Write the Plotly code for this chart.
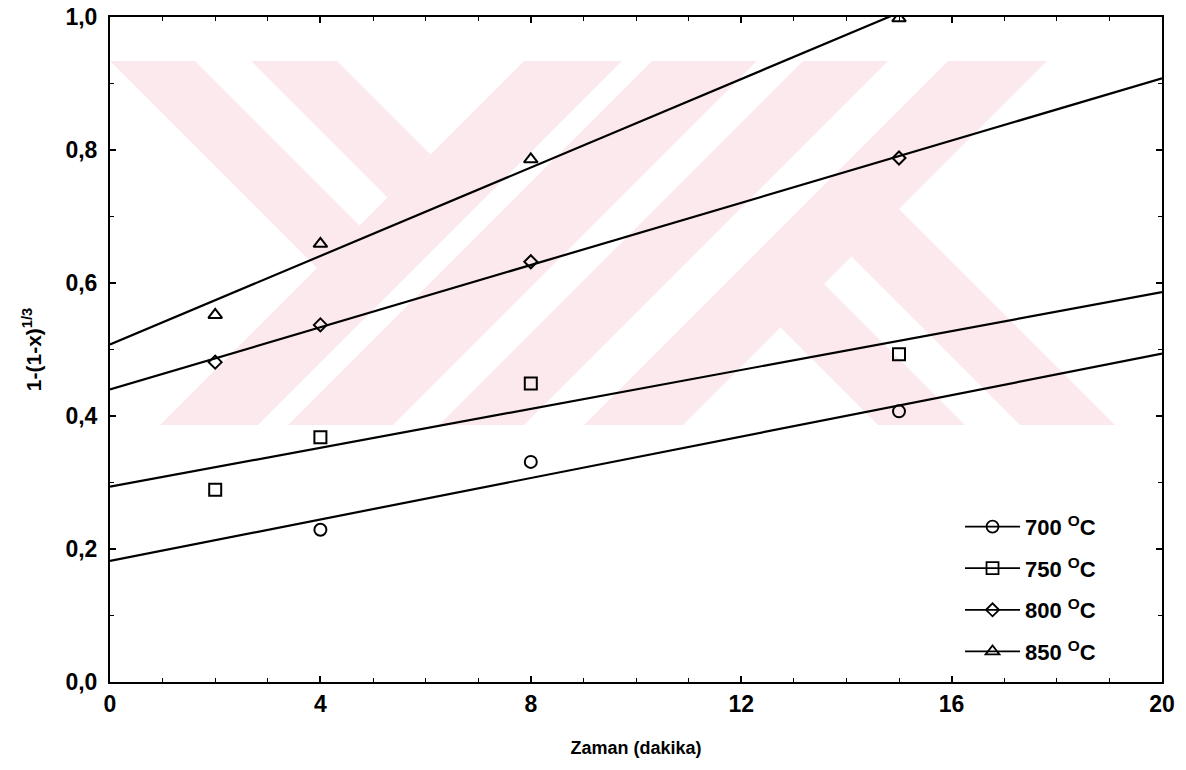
import numpy as np
import plotly.graph_objects as go

# ---------------- data ----------------
series_names = ["700 <sup>O</sup>C", "750 <sup>O</sup>C", "800 <sup>O</sup>C", "850 <sup>O</sup>C"]
x_700 = [4, 8, 15]
y_700 = [0.229, 0.331, 0.407]
x_750 = [2, 4, 8, 15]
y_750 = [0.289, 0.368, 0.449, 0.493]
x_800 = [2, 4, 8, 15]
y_800 = [0.481, 0.537, 0.632, 0.788]
x_850 = [2, 4, 8, 15]
y_850 = [0.552, 0.659, 0.786, 0.998]
symbols = ["circle-open", "square-open", "diamond-open", "triangle-up-open"]
sizes = [12, 12, 10, 12]

x_range = [0, 20]
y_range = [0, 1.0]
x_ticks = [0, 4, 8, 12, 16, 20]
y_ticks = [0.0, 0.2, 0.4, 0.6, 0.8, 1.0]

xs = [x_700, x_750, x_800, x_850]
ys = [y_700, y_750, y_800, y_850]

FONT = "Arial, Liberation Sans, Helvetica, sans-serif"

fig = go.Figure()

# ---------------- watermark (background decoration) ----------------
W, H = 1186, 770
ML, MR, MT, MB = 110, 24, 17, 88
PW, PH = W - ML - MR, H - MT - MB


def clip(poly, a, b, c):
    # keep a*x + b*y <= c
    out = []
    n = len(poly)
    for i in range(n):
        p, q = poly[i], poly[(i + 1) % n]
        fp = a * p[0] + b * p[1] - c
        fq = a * q[0] + b * q[1] - c
        if fp <= 0:
            out.append(p)
        if (fp < 0 < fq) or (fq < 0 < fp):
            t = fp / (fp - fq)
            out.append((p[0] + t * (q[0] - p[0]), p[1] + t * (q[1] - p[1])))
    return out


def region(ulo=None, uhi=None, vlo=None, vhi=None):
    poly = [(ML, 61), (ML + PW, 61), (ML + PW, 425), (ML, 425)]
    if ulo is not None:
        poly = clip(poly, -1, -1, -ulo)
    if uhi is not None:
        poly = clip(poly, 1, 1, uhi)
    if vlo is not None:
        poly = clip(poly, -1, 1, -vlo)
    if vhi is not None:
        poly = clip(poly, 1, -1, vhi)
    return poly


wm_regions = [
    region(uhi=585, vlo=49, vhi=134),
    region(uhi=585, vlo=190, vhi=276),
    region(ulo=585, uhi=683),
    region(ulo=713, uhi=818),
    region(ulo=864, uhi=949),
    region(ulo=1009, uhi=1108),
    region(ulo=1108, vlo=453, vhi=540),
    region(ulo=1108, vlo=595, vhi=690),
]
shapes = []
for poly in wm_regions:
    if len(poly) < 3:
        continue
    pts = [((px - ML) / PW, (MT + PH - py) / PH) for px, py in poly]
    path = "M " + " L ".join(f"{x:.5f},{y:.5f}" for x, y in pts) + " Z"
    shapes.append(dict(type="path", path=path, xref="paper", yref="paper",
                       fillcolor="rgb(252,233,237)", line=dict(width=0), layer="below"))

# ---------------- traces ----------------
x_line = np.array(x_range, dtype=float)
for i in range(4):
    slope, intercept = np.polyfit(xs[i], ys[i], 1)
    fig.add_trace(go.Scatter(x=x_line, y=intercept + slope * x_line, mode="lines",
                             line=dict(color="black", width=2.2), showlegend=False,
                             hoverinfo="skip"))
for i in range(4):
    fig.add_trace(go.Scatter(x=xs[i], y=ys[i], mode="markers",
                             marker=dict(symbol=symbols[i], size=sizes[i], color="black",
                                         line=dict(color="black", width=2)),
                             showlegend=False))
for i in range(4):
    fig.add_trace(go.Scatter(x=[None], y=[None], mode="lines+markers", name=series_names[i],
                             legendgroup=f"g{i}",
                             line=dict(color="black", width=1.8),
                             marker=dict(symbol=symbols[i], size=sizes[i], color="black",
                                         line=dict(color="black", width=1.8))))

axis_common = dict(
    showline=True, linecolor="black", linewidth=2, mirror="ticks",
    ticks="inside", ticklen=6, tickwidth=1.5, tickcolor="black",
    showgrid=False, zeroline=False, automargin=False,
    tickfont=dict(family=FONT, size=23, color="black", weight="bold"),
)

fig.update_layout(
    width=W, height=H,
    margin=dict(l=ML, r=MR, t=MT, b=MB),
    plot_bgcolor="white", paper_bgcolor="white",
    separators=", ",
    shapes=shapes,
    font=dict(family=FONT, color="black"),
    xaxis=dict(range=x_range, tickvals=x_ticks,
               minor=dict(dtick=1, ticks="inside", ticklen=4, tickcolor="black", tickwidth=1.2),
               title=dict(text="Zaman (dakika)", standoff=26,
                          font=dict(family=FONT, size=18, color="black", weight="bold")),
               **axis_common),
    yaxis=dict(range=y_range, tickvals=y_ticks, tickformat=".1f",
               minor=dict(dtick=0.1, ticks="inside", ticklen=4, tickcolor="black", tickwidth=1.2),
               ticklabelstandoff=6,
               title=dict(text="1-(1-x)<sup>1/3</sup>", standoff=18,
                          font=dict(family=FONT, size=21, color="black", weight="bold")),
               **axis_common),
    legend=dict(x=0.808, y=0.265, xanchor="left", yanchor="top",
                bgcolor="rgba(0,0,0,0)", borderwidth=0,
                font=dict(family=FONT, size=22, color="black", weight="bold"),
                tracegroupgap=10, itemwidth=55),
    showlegend=True,
)

fig.write_html("out.html")
